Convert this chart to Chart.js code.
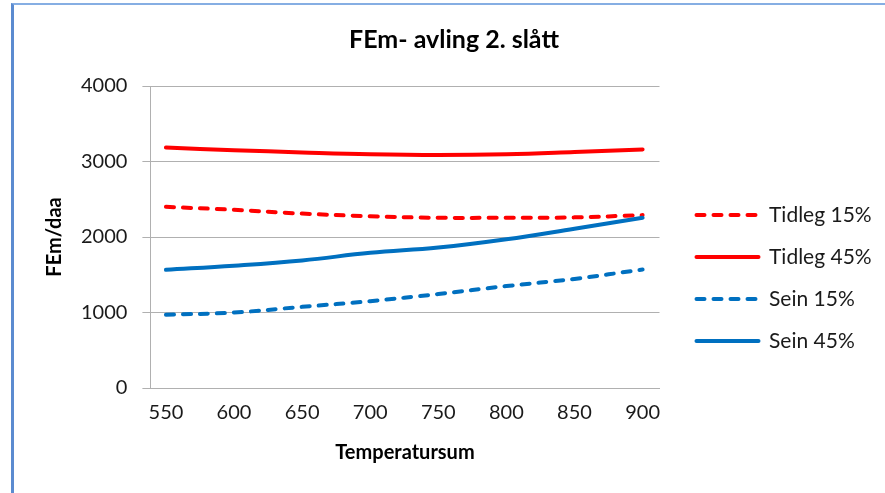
<!DOCTYPE html>
<html>
<head>
<meta charset="utf-8">
<script src="https://cdn.jsdelivr.net/npm/chart.js@4"></script>
<style>
  html, body { margin: 0; padding: 0; background: #fff; }
  body { width: 885px; height: 493px; position: relative; overflow: hidden; }
  #ramme {
    position: absolute; left: 11px; top: 3px; right: 0; bottom: 0;
    border-left: 3px solid #5b8bd0; border-top: 2px solid #86aee3;
  }
  #boks { position: absolute; left: 14px; top: 5px; width: 871px; height: 488px; }
</style>
</head>
<body>
<div id="ramme"></div>
<div id="boks"><canvas id="chartAvling"></canvas></div>
<script>
// Temperatursum (x) og FEm/daa for kvar serie
const temperatursum = [550, 600, 650, 700, 750, 800, 850, 900];
const tidleg15 = [2400, 2360, 2310, 2275, 2255, 2255, 2260, 2290];
const tidleg45 = [3185, 3150, 3120, 3095, 3085, 3095, 3125, 3160];
const sein15 = [970, 1000, 1075, 1150, 1245, 1350, 1445, 1570];
const sein45 = [1565, 1620, 1690, 1790, 1860, 1970, 2110, 2255];
const yTicks = [0, 1000, 2000, 3000, 4000];

const RAUD = "#ff0000";
const BLA = "#0070c0";
const FONT = "Lato";

function serie(label, values, color, dashed, order) {
  return {
    label: label,
    data: temperatursum.map((t, i) => ({ x: t, y: values[i] })),
    borderColor: color,
    backgroundColor: color,
    borderWidth: 4,
    borderDash: dashed ? [8, 9] : [],
    borderCapStyle: "round",
    pointRadius: 0,
    tension: 0.4,
    fill: false,
    order: order
  };
}

// flytt forklaringa litt ut fra plottet og ned
const legendeFlytt = {
  id: "legendeFlytt",
  afterLayout(chart) {
    const lg = chart.legend;
    lg.left += 16; lg.right += 16;
    lg.top += 35; lg.bottom += 35;
  }
};

new Chart(document.getElementById("chartAvling"), {
  type: "line",
  data: {
    datasets: [
      serie("Tidleg 15%", tidleg15, RAUD, true, 4),
      serie("Tidleg 45%", tidleg45, RAUD, false, 3),
      serie("Sein 15%", sein15, BLA, true, 2),
      serie("Sein 45%", sein45, BLA, false, 1)
    ]
  },
  plugins: [legendeFlytt],
  options: {
    responsive: true,
    maintainAspectRatio: false,
    animation: false,
    layout: { padding: { left: 29, right: 20, top: 0, bottom: 12 } },
    plugins: {
      title: {
        display: true,
        text: "FEm- avling 2. slått",
        color: "#000",
        font: { family: FONT, size: 25, weight: "bold" },
        padding: { top: 20, bottom: 31 }
      },
      legend: {
        position: "right",
        labels: {
          usePointStyle: true,
          pointStyle: "line",
          pointStyleWidth: 62,
          padding: 21,
          color: "#1a1a1a",
          font: { family: FONT, size: 21 },
          sort: (a, b) => a.datasetIndex - b.datasetIndex,
          generateLabels: chart => {
            const items = Chart.defaults.plugins.legend.labels.generateLabels(chart);
            items.forEach(it => {
              const ds = chart.data.datasets[it.datasetIndex];
              it.lineDash = ds.borderDash;
              it.lineCap = ds.borderCapStyle;
              it.lineWidth = ds.borderWidth;
            });
            return items;
          }
        }
      },
      tooltip: { enabled: false }
    },
    scales: {
      x: {
        type: "linear",
        min: 538.6,
        max: 912.4,
        afterBuildTicks: s => { s.ticks = temperatursum.map(v => ({ value: v })); },
        grid: { display: false, drawTicks: false },
        border: { display: true, color: "#b0b0b0", width: 1 },
        ticks: { color: "#1a1a1a", padding: 13, font: { family: FONT, size: 20 } },
        title: {
          display: true,
          text: "Temperatursum",
          color: "#000",
          font: { family: FONT, size: 20, weight: "bold" },
          padding: { top: 3, bottom: 16 }
        }
      },
      y: {
        min: 0,
        max: 4000,
        afterBuildTicks: s => { s.ticks = yTicks.map(v => ({ value: v })); },
        grid: { color: "#b0b0b0", lineWidth: 1, tickLength: 8 },
        border: { display: true, color: "#b0b0b0", width: 1 },
        ticks: {
          color: "#1a1a1a",
          padding: 15,
          font: { family: FONT, size: 20 },
          callback: v => String(v)
        },
        title: {
          display: true,
          text: "FEm/daa",
          color: "#000",
          font: { family: FONT, size: 20, weight: "bold" },
          padding: { top: 0, bottom: -1 }
        }
      }
    }
  }
});
</script>
</body>
</html>
